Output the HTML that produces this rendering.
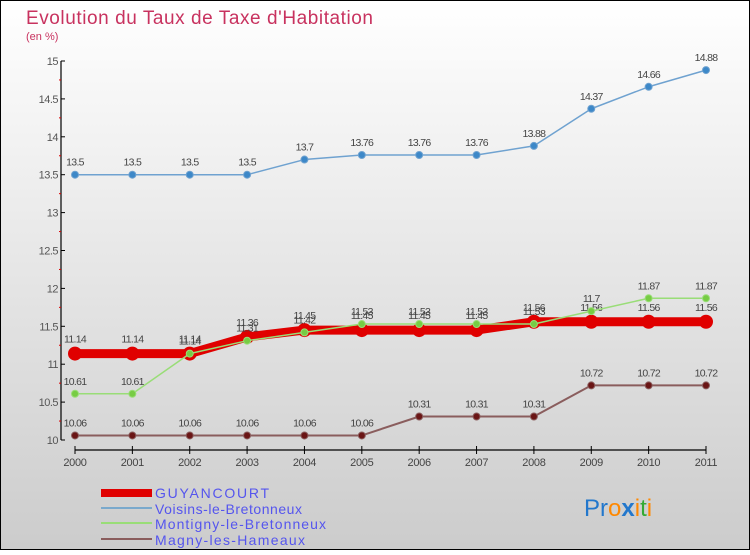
<!DOCTYPE html>
<html><head><meta charset="utf-8"><style>
body{margin:0;width:750px;height:550px;overflow:hidden;font-family:"Liberation Sans",sans-serif}
</style></head><body>
<svg width="750" height="550" xmlns="http://www.w3.org/2000/svg">
<defs><linearGradient id="bg" x1="0" y1="0" x2="0" y2="1"><stop offset="0" stop-color="#ffffff"/><stop offset="1" stop-color="#cccccc"/></linearGradient></defs>
<rect x="0.5" y="0.5" width="749" height="549" fill="url(#bg)" stroke="#000"/>
<text x="26" y="24" font-size="19" fill="#c8325f" textLength="347">Evolution du Taux de Taxe d'Habitation</text>
<text x="26" y="40" font-size="11" fill="#c8325f">(en %)</text>
<g id="axes"></g><g id="series"></g>
<g font-size="14" fill="#5555ee">
<rect x="101" y="489" width="51" height="8" fill="#e00000"/>
<text x="155" y="498" textLength="114">GUYANCOURT</text>
<rect x="101" y="507" width="51" height="2" fill="#7aa9cc"/>
<text x="155" y="514" textLength="147">Voisins-le-Bretonneux</text>
<rect x="101" y="522" width="51" height="2" fill="#99dd77"/>
<text x="155" y="529" textLength="171">Montigny-le-Bretonneux</text>
<rect x="101" y="538" width="51" height="2" fill="#8a5d5d"/>
<text x="155" y="545" textLength="150">Magny-les-Hameaux</text>
</g>
<g font-size="24">
<text x="584" y="516"><tspan fill="#2277cc">Pr</tspan><tspan fill="#ff8800">o</tspan><tspan fill="#2277cc" font-weight="bold">x</tspan><tspan fill="#ff8800">i</tspan><tspan fill="#33aa33">t</tspan><tspan fill="#ff8800">i</tspan></text>
</g>
</svg>
<script>
const years=[2000,2001,2002,2003,2004,2005,2006,2007,2008,2009,2010,2011];
const yTicks=[10,10.5,11,11.5,12,12.5,13,13.5,14,14.5,15];
const guyancourt=[11.14,11.14,11.14,11.36,11.45,11.45,11.45,11.45,11.56,11.56,11.56,11.56];
const voisins=[13.5,13.5,13.5,13.5,13.7,13.76,13.76,13.76,13.88,14.37,14.66,14.88];
const montigny=[10.61,10.61,11.14,11.31,11.42,11.53,11.53,11.53,11.53,11.7,11.87,11.87];
const magny=[10.06,10.06,10.06,10.06,10.06,10.06,10.31,10.31,10.31,10.72,10.72,10.72];
const NS="http://www.w3.org/2000/svg";
const xS=i=>75+i*(706-75)/11;
const yS=v=>440-(v-10)*75.8;
function mk(tag,attrs,parent){const e=document.createElementNS(NS,tag);for(const k in attrs)e.setAttribute(k,attrs[k]);parent.appendChild(e);return e;}
const ax=document.getElementById('axes');
let a=mk('line',{x1:61,y1:yS(15),x2:61,y2:yS(10),stroke:'#000','stroke-width':1.2},ax);


yTicks.forEach(v=>{
 mk('line',{x1:61,y1:yS(v),x2:65,y2:yS(v),stroke:'#000'},ax);
 if(v<15)mk('line',{x1:59,y1:yS(v+0.25),x2:61,y2:yS(v+0.25),stroke:'#d00'},ax);
 const t=mk('text',{x:58,y:yS(v)+4,'font-size':11,'text-anchor':'end',fill:'#555','letter-spacing':'-0.5'},ax);t.textContent=String(v);
 
 
});
let b=mk('line',{x1:75,y1:450,x2:706,y2:450,stroke:'#000','stroke-width':1.2},ax);


years.forEach((y,i)=>{
 mk('line',{x1:xS(i),y1:446,x2:xS(i),y2:454,stroke:'#000'},ax);
 const t=mk('text',{x:xS(i),y:466,'font-size':11,'text-anchor':'middle',fill:'#444','letter-spacing':'-0.3'},ax);t.textContent=String(y);
 
 
});
const sg=document.getElementById('series');
function series(vals,name,color,w,r,dot,lblDy){
 const g=mk('g',{},sg);
 
 
 mk('polyline',{points:vals.map((v,i)=>xS(i)+','+yS(v)).join(' '),fill:'none',stroke:color,'stroke-width':w,'stroke-linejoin':'round'},g);
 vals.forEach((v,i)=>{
  const c=mk('circle',{cx:xS(i),cy:yS(v),r:r,fill:dot,stroke:color,'stroke-width':1},g);
  
  
  const t=mk('text',{x:xS(i),y:yS(v)+lblDy,'font-size':10.5,'text-anchor':'middle',fill:'#444','letter-spacing':'-0.7'},g);t.textContent=String(v);
  
  
 });
}
series(magny,'magny','#8a5d5d',2,3.5,'#6a1515',-9);
series(voisins,'voisins','#6fa2d0',1.5,3.5,'#3d88c8',-9);
series(guyancourt,'guyancourt','#e00000',9,6.5,'#e00000',-11);
series(montigny,'montigny','#99dd77',1.5,3.5,'#77cc44',-9);
</script>
</body></html>
